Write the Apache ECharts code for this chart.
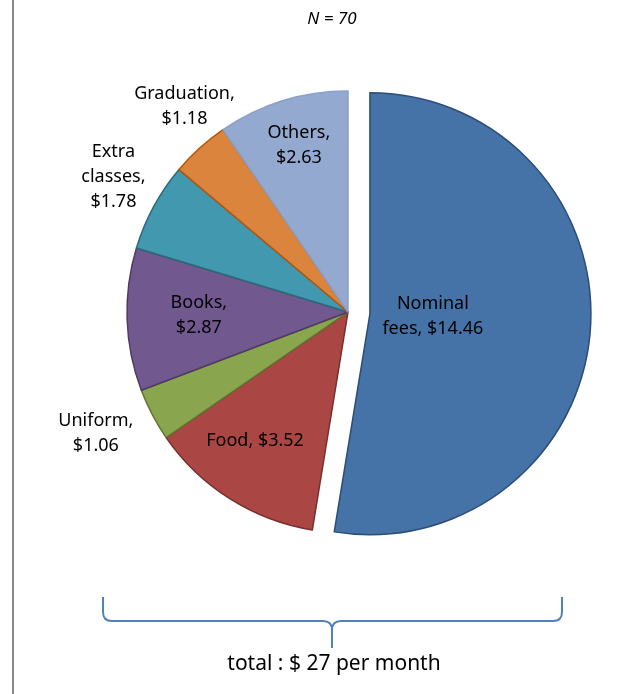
<!DOCTYPE html>
<html><head><meta charset="utf-8">
<script src="https://cdn.jsdelivr.net/npm/echarts@6/dist/echarts.min.js"></script>
<style>html,body{margin:0;padding:0;background:#fff}#c{width:626px;height:694px}</style>
</head><body><div id="c"></div>
<script>
const categories = ["Nominal fees", "Food", "Uniform", "Books", "Extra classes", "Graduation", "Others"];
const values = [14.46, 3.52, 1.06, 2.87, 1.78, 1.18, 2.63];
const labelTexts = ["Nominal\nfees, $14.46", "Food, $3.52", "Uniform,\n$1.06", "Books,\n$2.87", "Extra\nclasses,\n$1.78", "Graduation,\n$1.18", "Others,\n$2.63"];
const explodedIndex = 0;
const subtitle = "N = 70";
const totalText = "total : $ 27 per month";

// styles
const fills = ["#4572A7", "#AA4643", "#89A54E", "#71588F", "#4198AF", "#DB843D", "#93A9CF"];
const borders = ["#2C4D75", "#772F2D", "#5F7530", "#4D3B62", "#2C6A7A", "#B65708", "#8AA0C6"];
const labelRadiusFrac = [0.285, 0.72, 1.267, 0.675, 1.224, 1.19, 0.786];
const labelAngleAdj = [-2.3, 3.4, 1.9, 0.6, 1.4, 3.7, 0.8];
const CX = 348, CY = 312, R = 221, OFF = 22;
const FONT = 'Noto Sans';

const total = values.reduce((a, b) => a + b, 0);
const mids = [];
let acc = 0;
values.forEach(v => { const a = v / total * 360; mids.push(acc + a / 2); acc += a; });
const th0 = mids[explodedIndex] * Math.PI / 180;
const EX = CX + OFF * Math.sin(th0), EY = CY - OFF * Math.cos(th0);

const braceStyle = {stroke: '#4F81BD', lineWidth: 2, fill: null};
const L = (x1, y1, x2, y2) => ({type: 'line', shape: {x1, y1, x2, y2}, style: braceStyle});
const Q = (x1, y1, cx, cy, x2, y2) => ({type: 'bezierCurve', shape: {x1, y1, cpx1: cx, cpy1: cy, x2, y2}, style: braceStyle});

function makeSeries(showExploded) {
  const cx = showExploded ? EX : CX, cy = showExploded ? EY : CY;
  return {
    type: 'pie',
    center: [cx, cy],
    radius: R,
    startAngle: 90,
    clockwise: true,
    silent: true,
    emphasis: {disabled: true},
    label: {
      show: true, position: 'inside', color: '#000',
      fontFamily: FONT, fontSize: 18, lineHeight: 25,
      align: 'center', verticalAlign: 'middle',
      formatter: p => labelTexts[p.dataIndex]
    },
    labelLine: {show: false},
    labelLayout: function (params) {
      const i = params.dataIndex;
      const th = (mids[i] + labelAngleAdj[i]) * Math.PI / 180;
      const rr = labelRadiusFrac[i] * R;
      return {x: cx + rr * Math.sin(th), y: cy - rr * Math.cos(th), align: 'center', verticalAlign: 'middle'};
    },
    data: categories.map((c, i) => {
      const visible = showExploded ? i === explodedIndex : i !== explodedIndex;
      return {
        name: c, value: values[i],
        label: {show: visible},
        itemStyle: visible
          ? {color: fills[i], borderColor: borders[i], borderWidth: 1.5}
          : {color: 'rgba(0,0,0,0)', borderWidth: 0}
      };
    })
  };
}

const chart = echarts.init(document.getElementById('c'), null, {renderer: 'canvas'});
chart.setOption({
  animation: false,
  backgroundColor: '#fff',
  series: [makeSeries(false), makeSeries(true)],
  graphic: [
    {type: 'line', shape: {x1: 13, y1: 0, x2: 13, y2: 694}, style: {stroke: '#888', lineWidth: 2}},
    {type: 'text', x: 332, y: 19, style: {text: subtitle, font: 'italic 17px "Noto Sans"', fill: '#000', align: 'center', verticalAlign: 'middle'}},
    L(103, 597, 103, 612), Q(103, 612, 103, 621, 112, 621), L(112, 621, 323, 621),
    Q(323, 621, 332, 621, 332, 630), L(332, 630, 332, 648),
    Q(332, 630, 332, 621, 341, 621), L(341, 621, 553, 621),
    Q(553, 621, 562, 621, 562, 612), L(562, 612, 562, 597),
    {type: 'text', x: 334, y: 664, style: {text: totalText, font: '21px "Noto Sans"', fill: '#000', align: 'center', verticalAlign: 'middle'}}
  ]
});
</script></body></html>
